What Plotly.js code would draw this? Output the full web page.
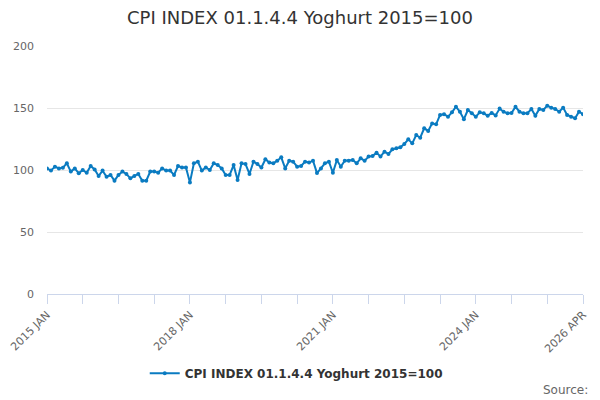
<!DOCTYPE html>
<html>
<head>
<meta charset="utf-8">
<script src="https://cdn.plot.ly/plotly-3.0.1.min.js"></script>
<style>html,body{margin:0;padding:0;background:#fff}#chart{width:600px;height:400px}</style>
</head>
<body>
<div id="chart"></div>
<script>
var seriesName = "CPI INDEX 01.1.4.4 Yoghurt 2015=100";
var startYear = 2015;
var monthNames = ["JAN","FEB","MAR","APR","MAY","JUN","JUL","AUG","SEP","OCT","NOV","DEC"];
var values = [
 101.3, 99.5, 102.7, 101.3, 101.9, 105.4, 98.7, 101.3, 97.3, 100, 97.8, 103.2,
 100.5, 95.2, 99.5, 94.6, 96, 91.4, 96, 98.7, 96.8, 93.3, 95.2, 96.8,
 91.4, 91.4, 98.7, 98.7, 97.8, 101.3, 99.5, 99.5, 96, 103.2, 102, 102,
 90, 105.4, 106.7, 99.5, 102, 100, 105.4, 104, 101.3, 96, 96, 104,
 92, 105.4, 104.8, 96.8, 106.7, 104.8, 102, 108.6, 106, 105.4, 107.5, 110.2,
 101.3, 107.5, 106.7, 102.7, 103.2, 106.7, 106, 107.5, 97.5, 101.3, 105.4, 106.7,
 97.8, 108, 102.7, 107.5, 107.5, 108, 105.4, 109.4, 107.5, 110.8, 111.3, 114,
 110.8, 114.8, 112.9, 116.7, 117.5, 118.3, 121, 124.7, 121.5, 128.2, 126, 133.6,
 131.5, 137.6, 136.8, 144.4, 145, 143, 146.5, 151, 147, 141, 148.4, 145.7,
 143, 146.5, 145.7, 143.8, 146, 144, 149.5, 147, 145.7, 146, 151, 147,
 145.7, 145.7, 149.2, 143.8, 149.2, 148.4, 151.9, 150.3, 149.2, 147, 150.3, 144.4,
 143, 141.7, 147, 145
];
var tickLabels = {0: "2015 JAN", 36: "2018 JAN", 72: "2021 JAN", 108: "2024 JAN", 135: "2026 APR"};

var idx = values.map(function(v, i){ return i; });
var hoverText = idx.map(function(i){ return (startYear + Math.floor(i/12)) + " " + monthNames[i%12]; });
var tickvals = [], ticktext = [];
for (var t = 0; t <= values.length - 1; t += 9) {
  tickvals.push(t);
  ticktext.push(tickLabels[t] || "");
}

var trace = {
  x: idx, y: values, text: hoverText,
  type: "scatter", mode: "lines+markers",
  name: seriesName,
  line: {color: "#0a7bc1", width: 2},
  marker: {color: "#0a7bc1", size: 4}
};

var font = "DejaVu Sans, Verdana, sans-serif";
var layout = {
  width: 600, height: 400,
  margin: {l: 47, r: 17, t: 46, b: 106},
  paper_bgcolor: "#fff", plot_bgcolor: "#fff",
  font: {family: font, color: "#666", size: 11},
  title: {text: "CPI INDEX 01.1.4.4 Yoghurt 2015=100", font: {family: font, size: 18, color: "#333"},
          x: 0.5, xanchor: "center", y: 0.955, yanchor: "middle"},
  xaxis: {
    range: [0, values.length - 1], tickmode: "array", tickvals: tickvals, ticktext: ticktext,
    tickangle: -45, ticks: "outside", ticklen: 9, tickcolor: "#ccd6eb", tickwidth: 1,
    showline: true, linecolor: "#ccd6eb", linewidth: 1, showgrid: false, zeroline: false,
    tickfont: {size: 11, color: "#666"}, fixedrange: true
  },
  yaxis: {
    range: [0, 200], tickvals: [0, 50, 100, 150, 200], showgrid: true, gridcolor: "#e6e6e6",
    zeroline: false, showline: false, ticks: "", ticklabelstandoff: 12,
    tickfont: {size: 11, color: "#666"}, fixedrange: true
  },
  showlegend: true,
  legend: {orientation: "h", x: 0.465, xanchor: "center", y: -0.32, yanchor: "middle", itemwidth: 30,
           font: {family: font, size: 12, color: "#333", weight: "bold"}},
  annotations: [{text: "Source:", xref: "paper", yref: "paper", x: 1.013, y: -0.387,
                 xanchor: "right", yanchor: "middle", showarrow: false,
                 font: {family: font, size: 12, color: "#666"}}]
};

Plotly.newPlot("chart", [trace], layout, {displayModeBar: false, staticPlot: true});
</script>
</body>
</html>
